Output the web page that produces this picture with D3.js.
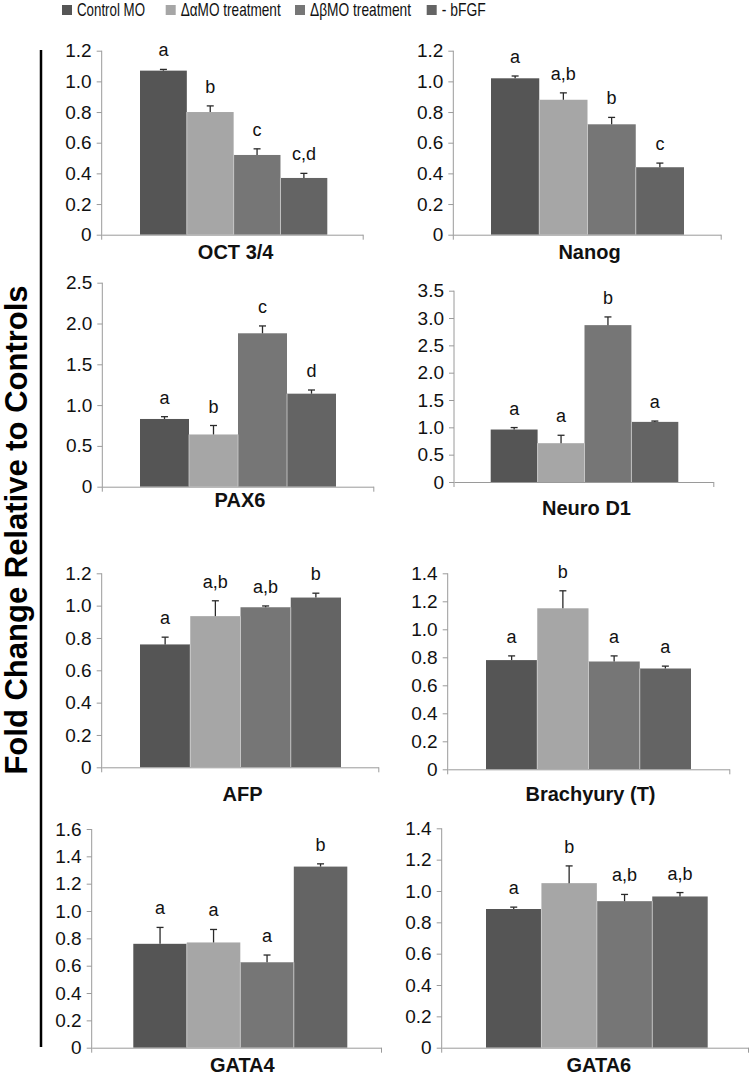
<!DOCTYPE html>
<html>
<head>
<meta charset="utf-8">
<script src="https://cdn.jsdelivr.net/npm/d3@7"></script>
<style>
  html, body { margin: 0; padding: 0; background: #fff; }
  svg { display: block; font-family: "Liberation Sans", Arial, sans-serif; }
</style>
</head>
<body>
<svg id="chart" width="750" height="1077"></svg>
<script>
// ---------------- DATA ----------------
const groups = ["Control MO", "\u0394\u03b1MO treatment", "\u0394\u03b2MO treatment", "- bFGF"];
const groupColors = ["#555555", "#a6a6a6", "#767676", "#646464"];
const genes = ["OCT 3/4", "Nanog", "PAX6", "Neuro D1", "AFP", "Brachyury (T)", "GATA4", "GATA6"];
const yMaxes = [1.2, 1.2, 2.5, 3.5, 1.2, 1.4, 1.6, 1.4];
const yStepValues = [0.2, 0.2, 0.5, 0.5, 0.2, 0.2, 0.2, 0.2];
const meanValues = [
  [1.07, 0.80, 0.52, 0.37],
  [1.02, 0.88, 0.72, 0.44],
  [0.83, 0.64, 1.88, 1.14],
  [0.96, 0.71, 2.87, 1.10],
  [0.76, 0.935, 0.99, 1.05],
  [0.78, 1.15, 0.77, 0.72],
  [0.76, 0.77, 0.625, 1.325],
  [0.885, 1.05, 0.935, 0.965]
];
const errorValues = [
  [0.008, 0.04, 0.04, 0.03],
  [0.015, 0.045, 0.045, 0.027],
  [0.028, 0.11, 0.09, 0.045],
  [0.036, 0.145, 0.15, 0.015],
  [0.045, 0.095, 0.008, 0.027],
  [0.03, 0.125, 0.04, 0.017],
  [0.12, 0.095, 0.053, 0.02],
  [0.012, 0.11, 0.043, 0.025]
];
const letterLabels = [
  ["a", "b", "c", "c,d"],
  ["a", "a,b", "b", "c"],
  ["a", "b", "c", "d"],
  ["a", "a", "b", "a"],
  ["a", "a,b", "a,b", "b"],
  ["a", "b", "a", "a"],
  ["a", "a", "a", "b"],
  ["a", "b", "a,b", "a,b"]
];
const yAxisTitle = "Fold Change Relative to Controls";

// ---------------- LAYOUT ----------------
// [axisX, axisEndX, yTopPx, yZeroPx, barsLeft, barsRight, titleBaselineY]
const panelLayout = [
  [101.7, 362.7, 50.7, 234.7, 140, 327.3, 259],
  [453.3, 720.7, 50.7, 234.7, 491, 684, 259],
  [102.3, 373.3, 282.7, 486.7, 140, 336, 507],
  [454, 713.3, 290.7, 482, 490.7, 678.3, 515],
  [101.7, 378.3, 573.3, 767.3, 140, 341, 801],
  [447.7, 729.3, 573.3, 769.3, 486, 691, 801],
  [91.7, 381, 829, 1047.7, 133.3, 347.3, 1072],
  [441.7, 748, 828.3, 1047.7, 486, 707.7, 1072]
];

const svg = d3.select("#chart");
const axisColor = "#9a9a9a";

genes.forEach((gene, i) => {
  const [ax, axEnd, yTop, yZero, bL, bR, titleY] = panelLayout[i];
  const g = svg.append("g");
  const y = d3.scaleLinear().domain([0, yMaxes[i]]).range([yZero, yTop]);
  const x = d3.scaleBand().domain(groups).range([bL, bR]).padding(0);

  const rows = groups.map((grp, k) => ({
    grp, k, mean: meanValues[i][k], err: errorValues[i][k], letter: letterLabels[i][k]
  }));

  // bars
  g.selectAll("rect.bar").data(rows).enter().append("rect")
    .attr("class", "bar")
    .attr("x", d => x(d.grp))
    .attr("width", x.bandwidth())
    .attr("y", d => y(d.mean))
    .attr("height", d => y(0) - y(d.mean))
    .attr("fill", d => groupColors[d.k]);

  // thin separators between bars
  g.selectAll("line.sep").data(rows.slice(1)).enter().append("line")
    .attr("x1", d => x(d.grp)).attr("x2", d => x(d.grp))
    .attr("y1", d => y(Math.min(d.mean, rows[d.k - 1].mean)))
    .attr("y2", y(0))
    .attr("stroke", "#cfcfcf").attr("stroke-width", 0.8);

  // error bars
  const cx = d => x(d.grp) + x.bandwidth() / 2;
  g.selectAll("line.err").data(rows).enter().append("line")
    .attr("x1", cx).attr("x2", cx)
    .attr("y1", d => y(d.mean)).attr("y2", d => y(d.mean + d.err))
    .attr("stroke", "#2a2a2a").attr("stroke-width", 1.3);
  g.selectAll("line.cap").data(rows).enter().append("line")
    .attr("x1", d => cx(d) - 3.5).attr("x2", d => cx(d) + 3.5)
    .attr("y1", d => y(d.mean + d.err)).attr("y2", d => y(d.mean + d.err))
    .attr("stroke", "#2a2a2a").attr("stroke-width", 1.3);

  // letters
  g.selectAll("text.letter").data(rows).enter().append("text")
    .attr("x", cx)
    .attr("y", d => y(d.mean + d.err) - 13)
    .attr("text-anchor", "middle")
    .attr("font-size", 18)
    .attr("fill", "#111")
    .text(d => d.letter);

  // y axis
  const ticks = d3.range(0, yMaxes[i] + 1e-9, yStepValues[i]).map(v => +v.toFixed(2));
  const yAxis = d3.axisLeft(y).tickValues(ticks).tickSize(5).tickSizeOuter(0).tickPadding(5)
    .tickFormat(v => v === 0 ? "0" : d3.format(".1f")(v));
  const ya = g.append("g").attr("transform", `translate(${ax},0)`).call(yAxis);
  ya.select(".domain").attr("stroke", axisColor).attr("d", `M0,${yTop}V${yZero + 5}`);
  ya.selectAll(".tick line").attr("stroke", axisColor);
  ya.selectAll(".tick text").attr("font-size", 19).attr("fill", "#111")
    .attr("font-family", "'Liberation Sans', Arial, sans-serif");

  // x axis
  const xs = d3.scaleLinear().domain([0, 1]).range([ax, axEnd]);
  const xa = g.append("g").attr("transform", `translate(0,${yZero})`)
    .call(d3.axisBottom(xs).tickValues([1]).tickSize(5).tickSizeOuter(0).tickFormat(""));
  xa.select(".domain").attr("stroke", axisColor);
  xa.selectAll(".tick line").attr("stroke", axisColor);

  // gene title
  g.append("text")
    .attr("x", (bL + bR) / 2 + 2)
    .attr("y", titleY)
    .attr("text-anchor", "middle")
    .attr("font-size", 20)
    .attr("font-weight", "bold")
    .attr("fill", "#111")
    .text(gene);
});

// vertical separator line
svg.append("line").attr("x1", 41).attr("x2", 41).attr("y1", 50).attr("y2", 1047)
  .attr("stroke", "#000").attr("stroke-width", 2.5);

// y axis title
svg.append("text")
  .attr("transform", "translate(27,530) rotate(-90)")
  .attr("text-anchor", "middle")
  .attr("font-size", 31)
  .attr("font-weight", "bold")
  .attr("fill", "#000")
  .text(yAxisTitle);

// legend
const legendSquareX = [62, 165.7, 295, 426.7];
const legendTextWidths = [68, 100, 101, 44];
const lg = svg.append("g");
groups.forEach((grp, k) => {
  lg.append("rect").attr("x", legendSquareX[k]).attr("y", 5).attr("width", 10).attr("height", 10)
    .attr("fill", groupColors[k]);
  lg.append("text").attr("x", legendSquareX[k] + 15).attr("y", 16)
    .attr("font-size", 18.5)
    .attr("textLength", legendTextWidths[k])
    .attr("lengthAdjust", "spacingAndGlyphs")
    .attr("fill", "#111")
    .text(grp);
});
</script>
</body>
</html>
